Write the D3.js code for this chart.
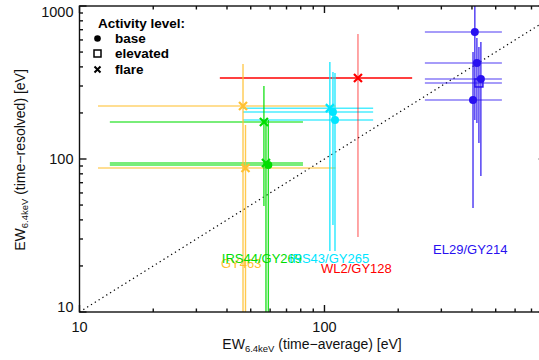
<!DOCTYPE html>
<html lang="en">
<head>
<meta charset="UTF-8">
<title>EW 6.4 keV time-resolved vs time-average</title>
<script src="https://cdnjs.cloudflare.com/ajax/libs/d3/7.8.5/d3.min.js"></script>
<style>
  body { margin: 0; background: #fff; }
  svg { font-family: "Liberation Sans", Arial, Helvetica, sans-serif; }
</style>
</head>
<body>
<div id="chart"></div>
<script>
// sources and their colours
const sources = ["GY463", "IRS44/GY269", "IRS43/GY265", "WL2/GY128", "EL29/GY214"];
const sourceColors = ["#FFC030", "#00DD00", "#00E5FF", "#FF0000", "#2810F0"];

// one entry per measurement
const ptSource = [0, 0, 1, 1, 1, 2, 2, 2, 3, 4, 4, 4, 4, 4];
const ptLevel  = ["flare", "flare", "flare", "flare", "base", "flare", "base", "base", "flare",
                  "base", "base", "base", "elevated", "base"];
const ptX   = [46.5, 47.6, 56.6, 57.7, 59.0, 105.2, 108.3, 110.4, 137, 411, 419, 435, 427, 404];
const ptXLo = [11.9, 11.9, 13.3, 13.3, 13.3, 46.5, 46.5, 46.5, 37.4, 257, 257, 257, 257, 257];
const ptXHi = [111, 111, 81.7, 81.7, 81.7, 158, 158, 158, 228, 530, 530, 530, 530, 530];
const ptY   = [222, 87.3, 174.5, 94.1, 91.4, 215, 203, 180, 338, 676, 424, 333, 314, 243];
const ptYLo = [5, 5, 49.3, 5, 5, 25, 37, 25, 30.9, 180, 172, 77.4, 127, 47.8];
const ptYHi = [418, 167, 300, 180, 180, 430, 370, 365, 656, 1500, 618, 582, 540, 500];

// source name labels (data coords, left / baseline)
const labelX = [37.8, 38.1, 71.6, 96.8, 277.6];
const labelY = [19.25, 21.05, 21.05, 18.1, 24.1];

const xMajor = [10, 100];
const xMinor = [20, 30, 40, 50, 60, 70, 80, 90, 200, 300, 400, 500, 600, 700];
const yMajor = [10, 100, 1000];
const yMinor = [20, 30, 40, 50, 60, 70, 80, 90, 200, 300, 400, 500, 600, 700, 800, 900];

const width = 539, height = 360;
const pLeft = 79.5, pTop = 6, pBottom = 312, pRight = 545.7;

const svg = d3.select("#chart").append("svg")
  .attr("width", width).attr("height", height);

const x = d3.scaleLog().domain([10, 800]).range([pLeft, pRight]);
const y = d3.scaleLog().domain([10, 1000]).range([pBottom, pTop]);

svg.append("defs").append("clipPath").attr("id", "plotclip")
  .append("rect").attr("x", pLeft).attr("y", pTop)
  .attr("width", pRight - pLeft).attr("height", pBottom - pTop);

const plot = svg.append("g").attr("clip-path", "url(#plotclip)");

// one-to-one line
plot.append("line")
  .attr("x1", x(10)).attr("y1", y(10)).attr("x2", x(1000)).attr("y2", y(1000))
  .attr("stroke", "#000").attr("stroke-width", 1.2)
  .attr("stroke-dasharray", "1.3,3.2");

const idx = d3.range(ptX.length);
const col = i => sourceColors[ptSource[i]];

// error bars: red one has a light vertical, the others light horizontals
plot.append("g").selectAll("line").data(idx).join("line")
  .attr("x1", i => x(ptXLo[i])).attr("x2", i => x(ptXHi[i]))
  .attr("y1", i => y(ptY[i])).attr("y2", i => y(ptY[i]))
  .attr("stroke", col).attr("stroke-width", 1.5)
  .attr("stroke-opacity", i => ptSource[i] === 3 ? 1 : (ptSource[i] === 4 ? 0.55 : 0.7));

plot.append("g").selectAll("line").data(idx).join("line")
  .attr("x1", i => x(ptX[i])).attr("x2", i => x(ptX[i]))
  .attr("y1", i => y(ptYLo[i])).attr("y2", i => y(ptYHi[i]))
  .attr("stroke", col).attr("stroke-width", 1.4)
  .attr("stroke-opacity", i => ptSource[i] === 3 ? 0.5 : 0.85);

// markers
const marks = plot.append("g").selectAll("g").data(idx).join("g")
  .attr("transform", i => `translate(${x(ptX[i])},${y(ptY[i])})`);

marks.filter(i => ptLevel[i] === "base").append("circle")
  .attr("r", 4).attr("fill", col);
marks.filter(i => ptLevel[i] === "elevated").append("rect")
  .attr("x", -4).attr("y", -4).attr("width", 8).attr("height", 8)
  .attr("fill", "none").attr("stroke", col).attr("stroke-width", 1.5);
marks.filter(i => ptLevel[i] === "flare").append("path")
  .attr("d", "M-4,-4L4,4M-4,4L4,-4")
  .attr("stroke", col).attr("stroke-width", 2.2);

// source labels
svg.append("g").selectAll("text").data(sources).join("text")
  .attr("x", (d, i) => x(labelX[i])).attr("y", (d, i) => y(labelY[i]))
  .attr("fill", (d, i) => sourceColors[i])
  .attr("font-size", 13)
  .text(d => d);

// frame and ticks
const axisG = svg.append("g").attr("stroke", "#111").attr("stroke-width", 1.4);
axisG.append("rect").attr("x", pLeft).attr("y", pTop)
  .attr("width", pRight - pLeft).attr("height", pBottom - pTop).attr("fill", "none");

const tickSet = (vals, len) => {
  vals.forEach(v => {
    const px = x(v);
    axisG.append("line").attr("x1", px).attr("x2", px).attr("y1", pBottom).attr("y2", pBottom - len);
    axisG.append("line").attr("x1", px).attr("x2", px).attr("y1", pTop).attr("y2", pTop + len);
  });
};
tickSet(xMajor, 7);
tickSet(xMinor, 3.5);

const ytickSet = (vals, len) => {
  vals.forEach(v => {
    const py = y(v);
    axisG.append("line").attr("x1", pLeft).attr("x2", pLeft + len).attr("y1", py).attr("y2", py);
    axisG.append("line").attr("x1", pRight).attr("x2", pRight - len).attr("y1", py).attr("y2", py);
  });
};
ytickSet(yMajor, 7);
ytickSet(yMinor, 3.5);

// tick labels
svg.append("g").selectAll("text").data(xMajor).join("text")
  .attr("x", d => x(d)).attr("y", pBottom + 20)
  .attr("text-anchor", "middle").attr("font-size", 14.5).attr("fill", "#111")
  .text(d => d);

svg.append("g").selectAll("text").data(yMajor).join("text")
  .attr("x", pLeft - 6)
  .attr("y", d => Math.min(Math.max(y(d), 12), 307) + 5)
  .attr("text-anchor", "end").attr("font-size", 14.5).attr("fill", "#111")
  .text(d => d);

// axis titles
const xt = svg.append("text").attr("x", 312).attr("y", 349)
  .attr("text-anchor", "middle").attr("font-size", 14).attr("fill", "#111");
xt.append("tspan").text("EW");
xt.append("tspan").attr("font-size", 9.5).attr("dy", 3).text("6.4keV");
xt.append("tspan").attr("dy", -3).text(" (time\u2212average) [eV]");

const yt = svg.append("text").attr("transform", "translate(25,160) rotate(-90)")
  .attr("text-anchor", "middle").attr("font-size", 14).attr("fill", "#111");
yt.append("tspan").text("EW");
yt.append("tspan").attr("font-size", 9.5).attr("dy", 3).text("6.4keV");
yt.append("tspan").attr("dy", -3).text(" (time\u2212resolved) [eV]");

// legend
const leg = svg.append("g").attr("font-size", 13.5).attr("font-weight", "bold").attr("fill", "#000");
leg.append("text").attr("x", 98).attr("y", 28).text("Activity level:");
leg.append("circle").attr("cx", 97.5).attr("cy", 38.5).attr("r", 3.3);
leg.append("text").attr("x", 115).attr("y", 43).text("base");
leg.append("rect").attr("x", 94).attr("y", 50).attr("width", 7).attr("height", 7)
  .attr("fill", "none").attr("stroke", "#000").attr("stroke-width", 1.5);
leg.append("text").attr("x", 115).attr("y", 58).text("elevated");
leg.append("path").attr("d", "M94.5,66.5L100.5,72.5M94.5,72.5L100.5,66.5")
  .attr("stroke", "#000").attr("stroke-width", 2);
leg.append("text").attr("x", 115).attr("y", 74).text("flare");
</script>
</body>
</html>
